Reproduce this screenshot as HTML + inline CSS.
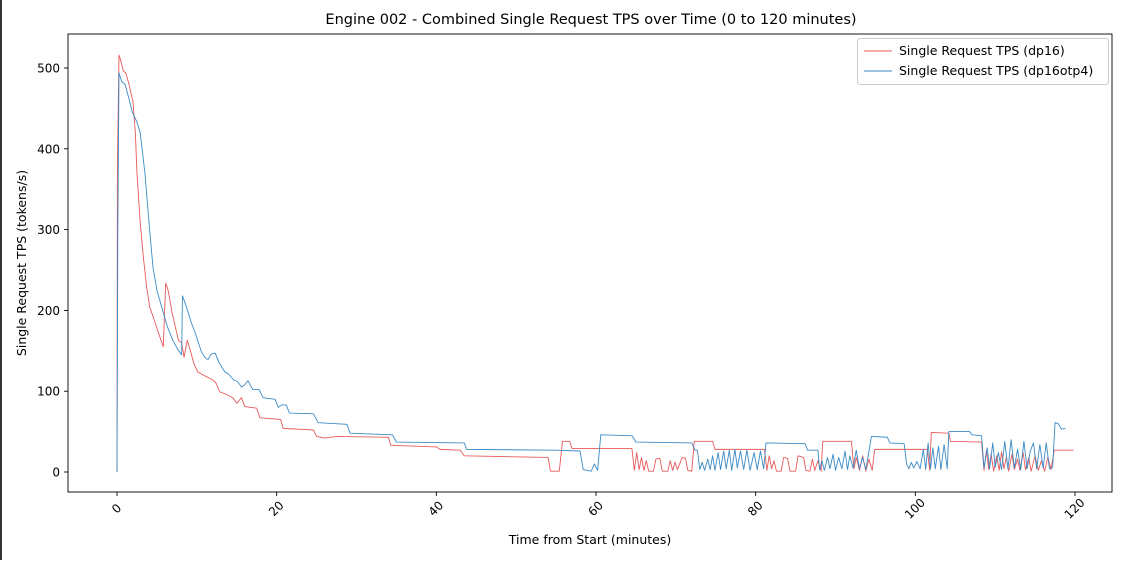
<!DOCTYPE html>
<html><head><meta charset="utf-8"><style>
html,body{margin:0;padding:0;background:#fff;}
body{width:1127px;height:560px;overflow:hidden;position:relative;font-family:"DejaVu Sans","Liberation Sans",sans-serif;}
svg text{font-family:"DejaVu Sans","Liberation Sans",sans-serif;fill:#000;}
</style></head><body>
<svg id="chart" width="1127" height="560" xmlns="http://www.w3.org/2000/svg">
<rect x="0" y="0" width="2" height="560" fill="#333"/>
<text x="591" y="24" font-size="14.5" text-anchor="middle">Engine 002 - Combined Single Request TPS over Time (0 to 120 minutes)</text>
<g id="plot"></g>
<rect x="68" y="34" width="1044" height="458" fill="none" stroke="#000" stroke-width="0.9"/>
<g id="xticks"></g>
<g id="yticks"></g>
<text x="590" y="544" font-size="12.5" text-anchor="middle">Time from Start (minutes)</text>
<text transform="translate(26,263) rotate(-90)" font-size="12.5" text-anchor="middle">Single Request TPS (tokens/s)</text>
<g>
<rect x="857.5" y="38.5" width="251" height="46" rx="3" fill="#fff" stroke="#ccc"/>
<g>
<line x1="864" y1="51" x2="892" y2="51" stroke="#e8595a" stroke-width="1"/>
<text x="899" y="55" font-size="12.5">Single Request TPS (dp16)</text></g>
<g>
<line x1="864" y1="71" x2="892" y2="71" stroke="#3b8bc6" stroke-width="1"/>
<text x="899" y="75" font-size="12.5">Single Request TPS (dp16otp4)</text></g>
</g>
</svg>
<script>
const xTickValues = [0, 20, 40, 60, 80, 100, 120];
const yTickValues = [0, 100, 200, 300, 400, 500];
const dp16Points = [[0,0],[0.05,380],[0.25,516],[0.5,508],[0.8,496],[1.1,494],[1.5,480],[2,458],[2.3,420],[2.5,370],[2.9,310],[3.3,266],[3.7,230],[4.1,204],[4.6,190],[5.2,172],[5.8,155],[6.1,234],[6.4,225],[6.9,197],[7.3,180],[7.7,163],[8.1,160],[8.4,142],[8.8,163],[9.2,150],[9.6,135],[10.1,124],[10.8,120],[12,114],[12.4,110],[12.9,99],[13.5,97],[14.5,92],[15,85],[15.6,92],[16,81],[17.5,79],[17.9,67],[20.5,65],[20.8,54],[24.6,52],[25,44],[26,42],[27.5,44],[34,43],[34.3,33],[40,31],[40.5,28],[43,27],[43.5,20],[54,18],[54.3,1],[55.4,1],[55.8,38],[56.7,38],[57,29],[64.5,29],[64.8,2],[65.1,24],[65.4,3],[65.7,18],[66,2],[66.3,14],[66.6,1],[67.2,1],[67.5,16],[68,17],[68.3,1],[69,1],[69.3,14],[69.6,2],[69.9,12],[70.2,3],[70.8,18],[71.2,17],[71.5,2],[72,1],[72.3,38],[74.6,38],[74.9,28],[81.1,28],[81.4,2],[81.7,20],[82,4],[82.3,14],[82.6,1],[83.2,1],[83.5,18],[84,17],[84.3,1],[85,1],[85.3,20],[86,18],[86.3,2],[86.8,1],[87.1,16],[87.4,2],[87.8,14],[88.2,1],[88.4,38],[92,38],[92.3,4],[92.6,18],[93,2],[93.4,20],[93.8,1],[94.2,16],[94.6,2],[94.9,28],[101.5,28],[101.8,2],[102,49],[104.2,48],[104.4,38],[108.3,37],[108.6,2],[108.9,26],[109.2,3],[109.5,22],[109.8,1],[110.2,20],[110.5,2],[110.8,25],[111.1,4],[111.4,18],[111.7,1],[112.1,22],[112.4,3],[112.8,16],[113.1,2],[113.5,24],[113.8,3],[114.2,18],[114.5,1],[115,20],[115.4,2],[115.8,14],[116.2,1],[116.6,18],[117,3],[117.4,27],[119.8,27]];
const dp16otp4Points = [[0,0],[0.1,300],[0.25,494],[0.6,483],[1,480],[1.5,462],[1.9,446],[2.5,433],[2.9,420],[3.5,370],[4,310],[4.5,254],[5,225],[5.6,204],[6.3,180],[7,163],[7.6,152],[8.1,145],[8.2,218],[8.5,210],[8.9,198],[9.3,185],[9.8,172],[10.2,160],[10.6,148],[11,142],[11.4,139],[11.8,146],[12.3,147],[12.8,135],[13.5,124],[14,121],[14.6,114],[15.1,112],[15.6,105],[16,108],[16.4,113],[17,102],[17.8,102],[18.3,92],[19.8,90],[20.2,80],[20.6,83],[21.2,83],[21.6,73],[24.6,72],[25.2,61],[28.8,59],[29.2,48],[34.5,46],[35,37],[43.5,36],[43.8,28],[55,27],[58,26],[58.4,3],[59.4,1],[59.8,10],[60.2,2],[60.6,46],[64.5,45],[65,37],[72,36],[72.4,27],[72.7,27],[73,3],[73.3,12],[73.6,2],[74,16],[74.3,3],[74.6,20],[74.9,2],[75.3,24],[75.6,3],[76,26],[76.3,4],[76.7,27],[77,2],[77.4,28],[77.7,5],[78.1,26],[78.5,3],[78.9,27],[79.3,2],[79.8,24],[80.2,3],[80.6,26],[81,4],[81.3,36],[86.2,35],[86.5,27],[87.8,27],[88,3],[88.3,14],[88.6,2],[89,18],[89.3,4],[89.7,22],[90,2],[90.4,18],[90.8,4],[91.2,26],[91.5,3],[91.8,20],[92.2,5],[92.6,27],[93,4],[93.4,18],[93.8,3],[94.2,26],[94.5,44],[96.5,43],[96.8,36],[98.6,35],[98.9,10],[99.2,4],[99.5,12],[99.8,5],[100.2,13],[100.6,4],[101,28],[101.3,3],[101.6,36],[101.9,4],[102.2,30],[102.5,4],[102.9,32],[103.2,3],[103.6,34],[104,4],[104.2,50],[106.8,50],[107.1,46],[108.3,45],[108.6,5],[109,30],[109.3,4],[109.7,36],[110,6],[110.4,24],[110.8,3],[111.2,38],[111.6,4],[112,40],[112.4,5],[112.8,28],[113.2,3],[113.6,38],[114,4],[114.4,26],[114.8,36],[115.2,4],[115.6,34],[116,5],[116.4,36],[116.8,4],[117.2,6],[117.5,61],[117.9,60],[118.3,53],[118.8,54]];

const NS = "http://www.w3.org/2000/svg";
function xScale(t){ return 117 + t * (1075 - 117) / 120; }
function yScale(v){ return 472 - v * (472 - 68) / 500; }

const plot = document.getElementById('plot');
function drawSeries(points, color, name){
  const p = document.createElementNS(NS, 'path');
  p.setAttribute('d', points.map((d,i)=>(i?'L':'M')+xScale(d[0]).toFixed(2)+','+yScale(d[1]).toFixed(2)).join(''));
  p.setAttribute('fill','none');
  p.setAttribute('stroke',color);
  p.setAttribute('stroke-width','0.9');
  p.setAttribute('stroke-linejoin','round');
  
  
  plot.appendChild(p);
}
drawSeries(dp16Points, '#e8595a', 'series-line-dp16');
drawSeries(dp16otp4Points, '#3b8bc6', 'series-line-dp16otp4');

const xg = document.getElementById('xticks');
xTickValues.forEach(v=>{
  const x = xScale(v);
  const l = document.createElementNS(NS,'line');
  l.setAttribute('x1',x); l.setAttribute('x2',x); l.setAttribute('y1',492); l.setAttribute('y2',496);
  l.setAttribute('stroke','#000'); l.setAttribute('stroke-width','0.9');
  
  
  xg.appendChild(l);
  const t = document.createElementNS(NS,'text');
  t.setAttribute('transform','translate('+(x)+','+509+') rotate(-45)');
  t.setAttribute('font-size','12');
  t.setAttribute('text-anchor','middle');
  t.setAttribute('dominant-baseline','middle');
  t.textContent = v;
  
  
  xg.appendChild(t);
});
const yg = document.getElementById('yticks');
yTickValues.forEach(v=>{
  const y = yScale(v);
  const l = document.createElementNS(NS,'line');
  l.setAttribute('x1',64); l.setAttribute('x2',68); l.setAttribute('y1',y); l.setAttribute('y2',y);
  l.setAttribute('stroke','#000'); l.setAttribute('stroke-width','0.9');
  
  
  yg.appendChild(l);
  const t = document.createElementNS(NS,'text');
  t.setAttribute('x',60); t.setAttribute('y',y+4.5);
  t.setAttribute('font-size','12');
  t.setAttribute('text-anchor','end');
  t.textContent = v;
  
  
  yg.appendChild(t);
});
</script>
</body></html>
